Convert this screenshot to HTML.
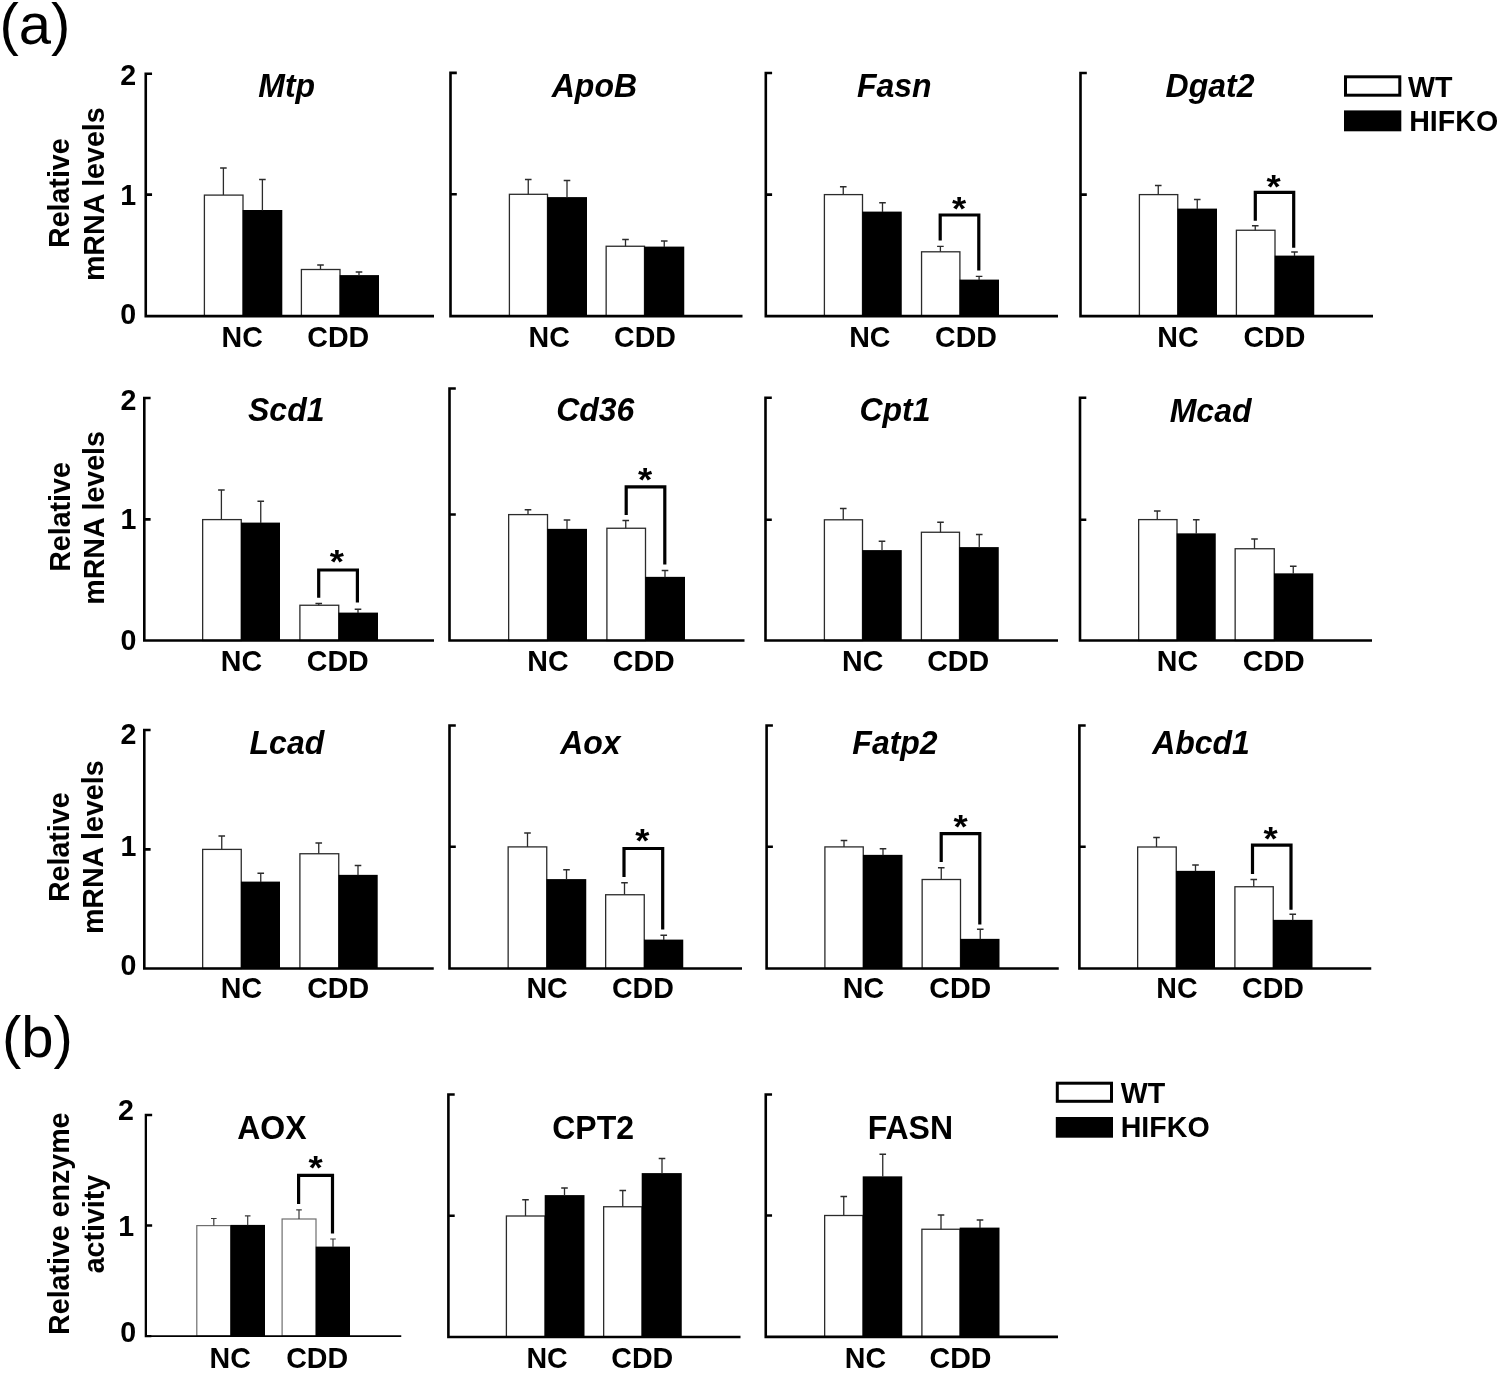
<!DOCTYPE html>
<html lang="en"><head><meta charset="utf-8"><title>Figure</title>
<style>
html,body{margin:0;padding:0;background:#fff;}
svg{display:block;}
text{font-family:"Liberation Sans",Arial,Helvetica,sans-serif;fill:#000;}
.b{font-weight:bold;font-size:28.6px;}
.t{font-weight:bold;font-style:italic;font-size:32px;}
.tb{font-weight:bold;font-size:32px;}
.pl{font-size:58px;}
.st{font-weight:bold;font-size:36.5px;}
.ax{fill:none;stroke:#000;stroke-linecap:butt;stroke-linejoin:miter;}
.wb{fill:#fff;stroke:#2b2b2b;stroke-width:1.3;}
.kb{fill:#000;}
.eb{fill:none;stroke:#2b2b2b;stroke-width:1.3;}
.br{fill:none;stroke:#000;stroke-width:3.2;stroke-linejoin:miter;}
</style></head>
<body>
<svg width="1500" height="1373" viewBox="0 0 1500 1373">
<rect x="0" y="0" width="1500" height="1373" fill="#fff"/>
<g>
<rect class="wb" style="stroke-width:1.3;stroke:#2b2b2b" x="204.4" y="195.1" width="38.6" height="121"/>
<rect class="kb" x="242.7" y="210" width="39.6" height="106.1"/>
<rect class="wb" style="stroke-width:1.3;stroke:#2b2b2b" x="301.4" y="269.5" width="38.6" height="46.6"/>
<rect class="kb" x="339.7" y="275.1" width="39.3" height="41"/>
<path class="eb" style="stroke-width:1.3;stroke:#2b2b2b" d="M223.4 195.1V168M220.1 168H226.7"/>
<path class="eb" style="stroke-width:1.3;stroke:#2b2b2b" d="M262.4 210.4V179.5M259.1 179.5H265.7"/>
<path class="eb" style="stroke-width:1.3;stroke:#2b2b2b" d="M320.5 269.5V265M317.2 265H323.8"/>
<path class="eb" style="stroke-width:1.3;stroke:#2b2b2b" d="M359 275.5V272M355.7 272H362.3"/>
<path class="ax" stroke-width="2.6" d="M152.05 73.8H145.75V316.1H434M145.75 194.6H152.05"/>
<text class="t" text-anchor="middle" transform="translate(286.65 96.8) scale(1 1.04)">Mtp</text>
<text class="b" text-anchor="middle" transform="translate(242.2 346.5) scale(1 1.04)">NC</text>
<text class="b" text-anchor="middle" transform="translate(338.3 346.5) scale(1 1.04)">CDD</text>
</g>
<g>
<rect class="wb" style="stroke-width:1.3;stroke:#2b2b2b" x="509.4" y="194.3" width="38.1" height="121.8"/>
<rect class="kb" x="547.2" y="197.1" width="39.8" height="119"/>
<rect class="wb" style="stroke-width:1.3;stroke:#2b2b2b" x="606.15" y="246.25" width="38.35" height="69.85"/>
<rect class="kb" x="644.2" y="246.6" width="40.05" height="69.5"/>
<path class="eb" style="stroke-width:1.3;stroke:#2b2b2b" d="M528.25 194.3V179.5M524.95 179.5H531.55"/>
<path class="eb" style="stroke-width:1.3;stroke:#2b2b2b" d="M567 197.5V180.5M563.7 180.5H570.3"/>
<path class="eb" style="stroke-width:1.3;stroke:#2b2b2b" d="M625.5 246.25V239.5M622.2 239.5H628.8"/>
<path class="eb" style="stroke-width:1.3;stroke:#2b2b2b" d="M664.25 247V241M660.95 241H667.55"/>
<path class="ax" stroke-width="2.6" d="M456.8 72.9H450.5V316.1H742.5M450.5 194.3H456.8"/>
<text class="t" text-anchor="middle" transform="translate(594.4 97) scale(1 1.04)">ApoB</text>
<text class="b" text-anchor="middle" transform="translate(549.2 346.5) scale(1 1.04)">NC</text>
<text class="b" text-anchor="middle" transform="translate(645 346.5) scale(1 1.04)">CDD</text>
</g>
<g>
<rect class="wb" style="stroke-width:1.3;stroke:#2b2b2b" x="824.4" y="194.6" width="38.1" height="121.5"/>
<rect class="kb" x="862.2" y="211.6" width="39.55" height="104.5"/>
<rect class="wb" style="stroke-width:1.3;stroke:#2b2b2b" x="921.55" y="251.8" width="38.35" height="64.3"/>
<rect class="kb" x="959.6" y="279.6" width="39.4" height="36.5"/>
<path class="eb" style="stroke-width:1.3;stroke:#2b2b2b" d="M843.25 194.6V186.75M839.95 186.75H846.55"/>
<path class="eb" style="stroke-width:1.3;stroke:#2b2b2b" d="M882.5 212V202.75M879.2 202.75H885.8"/>
<path class="eb" style="stroke-width:1.3;stroke:#2b2b2b" d="M940.4 251.8V246.4M937.1 246.4H943.7"/>
<path class="eb" style="stroke-width:1.3;stroke:#2b2b2b" d="M979.1 280V276.3M975.8 276.3H982.4"/>
<path class="ax" stroke-width="2.6" d="M772.1 73H765.8V316.1H1058M765.8 194.6H772.1"/>
<path class="br" d="M940.2 240.6V215H978.8V270.5"/>
<text class="st" text-anchor="middle" transform="translate(959 219.7) scale(1 0.93)">*</text>
<text class="t" text-anchor="middle" transform="translate(894.25 97) scale(1 1.04)">Fasn</text>
<text class="b" text-anchor="middle" transform="translate(869.8 346.5) scale(1 1.04)">NC</text>
<text class="b" text-anchor="middle" transform="translate(966 346.5) scale(1 1.04)">CDD</text>
</g>
<g>
<rect class="wb" style="stroke-width:1.3;stroke:#2b2b2b" x="1139.4" y="194.6" width="38.35" height="121.5"/>
<rect class="kb" x="1177.45" y="208.6" width="39.55" height="107.5"/>
<rect class="wb" style="stroke-width:1.3;stroke:#2b2b2b" x="1236.4" y="230.25" width="38.6" height="85.85"/>
<rect class="kb" x="1274.7" y="255.6" width="39.55" height="60.5"/>
<path class="eb" style="stroke-width:1.3;stroke:#2b2b2b" d="M1158.25 194.6V185.5M1154.95 185.5H1161.55"/>
<path class="eb" style="stroke-width:1.3;stroke:#2b2b2b" d="M1197.25 209V199.5M1193.95 199.5H1200.55"/>
<path class="eb" style="stroke-width:1.3;stroke:#2b2b2b" d="M1255.25 230.25V225.75M1251.95 225.75H1258.55"/>
<path class="eb" style="stroke-width:1.3;stroke:#2b2b2b" d="M1294.5 256V252M1291.2 252H1297.8"/>
<path class="ax" stroke-width="2.6" d="M1086.8 73H1080.5V316.1H1373M1080.5 194.6H1086.8"/>
<path class="br" d="M1255.3 220.7V192.3H1293.7V247.7"/>
<text class="st" text-anchor="middle" transform="translate(1273.5 197.7) scale(1 0.93)">*</text>
<text class="t" text-anchor="middle" transform="translate(1210 96.5) scale(1 1.04)">Dgat2</text>
<text class="b" text-anchor="middle" transform="translate(1178 346.5) scale(1 1.04)">NC</text>
<text class="b" text-anchor="middle" transform="translate(1274.4 346.5) scale(1 1.04)">CDD</text>
</g>
<g>
<rect class="wb" style="stroke-width:1.3;stroke:#2b2b2b" x="202.65" y="519.6" width="38.6" height="120.9"/>
<rect class="kb" x="240.95" y="522.6" width="39.05" height="117.9"/>
<rect class="wb" style="stroke-width:1.3;stroke:#2b2b2b" x="299.9" y="605.25" width="38.85" height="35.25"/>
<rect class="kb" x="338.45" y="612.6" width="39.55" height="27.9"/>
<path class="eb" style="stroke-width:1.3;stroke:#2b2b2b" d="M221.4 519.6V490M218.1 490H224.7"/>
<path class="eb" style="stroke-width:1.3;stroke:#2b2b2b" d="M260.75 523V501.25M257.45 501.25H264.05"/>
<path class="eb" style="stroke-width:1.3;stroke:#2b2b2b" d="M318.75 605.25V603.5M315.45 603.5H322.05"/>
<path class="eb" style="stroke-width:1.3;stroke:#2b2b2b" d="M358 613V609.25M354.7 609.25H361.3"/>
<path class="ax" stroke-width="2.6" d="M150.6 398H144.3V640.5H434M144.3 519.4H150.6"/>
<path class="br" d="M318.7 597.8V570H357.4V602.6"/>
<text class="st" text-anchor="middle" transform="translate(336.8 572.7) scale(1 0.93)">*</text>
<text class="t" text-anchor="middle" transform="translate(286.25 421.25) scale(1 1.04)">Scd1</text>
<text class="b" text-anchor="middle" transform="translate(241.5 670.8) scale(1 1.04)">NC</text>
<text class="b" text-anchor="middle" transform="translate(337.75 670.8) scale(1 1.04)">CDD</text>
</g>
<g>
<rect class="wb" style="stroke-width:1.3;stroke:#2b2b2b" x="508.65" y="514.6" width="38.85" height="125.9"/>
<rect class="kb" x="547.2" y="528.85" width="39.8" height="111.65"/>
<rect class="wb" style="stroke-width:1.3;stroke:#2b2b2b" x="606.9" y="528.25" width="38.6" height="112.25"/>
<rect class="kb" x="645.2" y="576.85" width="39.8" height="63.65"/>
<path class="eb" style="stroke-width:1.3;stroke:#2b2b2b" d="M528 514.6V509.75M524.7 509.75H531.3"/>
<path class="eb" style="stroke-width:1.3;stroke:#2b2b2b" d="M567 529.25V520M563.7 520H570.3"/>
<path class="eb" style="stroke-width:1.3;stroke:#2b2b2b" d="M625.75 528.25V520.5M622.45 520.5H629.05"/>
<path class="eb" style="stroke-width:1.3;stroke:#2b2b2b" d="M665 577.25V570.5M661.7 570.5H668.3"/>
<path class="ax" stroke-width="2.6" d="M455.8 388.5H449.5V640.5H744.5M449.5 514.5H455.8"/>
<path class="br" d="M626.2 515.1V486.9H664.8V564.6"/>
<text class="st" text-anchor="middle" transform="translate(645.2 490.5) scale(1 0.93)">*</text>
<text class="t" text-anchor="middle" transform="translate(595.25 420.5) scale(1 1.04)">Cd36</text>
<text class="b" text-anchor="middle" transform="translate(547.9 670.8) scale(1 1.04)">NC</text>
<text class="b" text-anchor="middle" transform="translate(643.75 670.8) scale(1 1.04)">CDD</text>
</g>
<g>
<rect class="wb" style="stroke-width:1.3;stroke:#2b2b2b" x="824.4" y="519.8" width="38.1" height="120.7"/>
<rect class="kb" x="862.2" y="550.1" width="39.55" height="90.4"/>
<rect class="wb" style="stroke-width:1.3;stroke:#2b2b2b" x="921.4" y="532.25" width="38.1" height="108.25"/>
<rect class="kb" x="959.2" y="547.1" width="39.55" height="93.4"/>
<path class="eb" style="stroke-width:1.3;stroke:#2b2b2b" d="M843.25 519.8V508.5M839.95 508.5H846.55"/>
<path class="eb" style="stroke-width:1.3;stroke:#2b2b2b" d="M882 550.5V541.25M878.7 541.25H885.3"/>
<path class="eb" style="stroke-width:1.3;stroke:#2b2b2b" d="M940.5 532.25V522.25M937.2 522.25H943.8"/>
<path class="eb" style="stroke-width:1.3;stroke:#2b2b2b" d="M979.25 547.5V534.5M975.95 534.5H982.55"/>
<path class="ax" stroke-width="2.6" d="M771.8 397.7H765.5V640.5H1058M765.5 519.75H771.8"/>
<text class="t" text-anchor="middle" transform="translate(895 421.25) scale(1 1.04)">Cpt1</text>
<text class="b" text-anchor="middle" transform="translate(862.75 670.8) scale(1 1.04)">NC</text>
<text class="b" text-anchor="middle" transform="translate(958.1 670.8) scale(1 1.04)">CDD</text>
</g>
<g>
<rect class="wb" style="stroke-width:1.3;stroke:#2b2b2b" x="1138.65" y="519.6" width="38.35" height="120.9"/>
<rect class="kb" x="1176.7" y="533.35" width="39.05" height="107.15"/>
<rect class="wb" style="stroke-width:1.3;stroke:#2b2b2b" x="1235.15" y="548.75" width="39.1" height="91.75"/>
<rect class="kb" x="1273.95" y="573.35" width="39.3" height="67.15"/>
<path class="eb" style="stroke-width:1.3;stroke:#2b2b2b" d="M1157.25 519.6V511M1153.95 511H1160.55"/>
<path class="eb" style="stroke-width:1.3;stroke:#2b2b2b" d="M1196.25 533.75V519.75M1192.95 519.75H1199.55"/>
<path class="eb" style="stroke-width:1.3;stroke:#2b2b2b" d="M1254.5 548.75V539M1251.2 539H1257.8"/>
<path class="eb" style="stroke-width:1.3;stroke:#2b2b2b" d="M1293.25 573.75V566.25M1289.95 566.25H1296.55"/>
<path class="ax" stroke-width="2.6" d="M1086.3 397.7H1080V640.5H1372M1080 519.75H1086.3"/>
<text class="t" text-anchor="middle" transform="translate(1210.6 421.75) scale(1 1.04)">Mcad</text>
<text class="b" text-anchor="middle" transform="translate(1177.5 670.8) scale(1 1.04)">NC</text>
<text class="b" text-anchor="middle" transform="translate(1273.75 670.8) scale(1 1.04)">CDD</text>
</g>
<g>
<rect class="wb" style="stroke-width:1.3;stroke:#2b2b2b" x="202.65" y="849.4" width="38.6" height="119.1"/>
<rect class="kb" x="240.95" y="881.6" width="39.05" height="86.9"/>
<rect class="wb" style="stroke-width:1.3;stroke:#2b2b2b" x="299.9" y="853.75" width="38.85" height="114.75"/>
<rect class="kb" x="338.45" y="874.85" width="39.25" height="93.65"/>
<path class="eb" style="stroke-width:1.3;stroke:#2b2b2b" d="M221.75 849.4V836M218.45 836H225.05"/>
<path class="eb" style="stroke-width:1.3;stroke:#2b2b2b" d="M260.75 882V873.25M257.45 873.25H264.05"/>
<path class="eb" style="stroke-width:1.3;stroke:#2b2b2b" d="M318.75 853.75V843M315.45 843H322.05"/>
<path class="eb" style="stroke-width:1.3;stroke:#2b2b2b" d="M358 875.25V865.5M354.7 865.5H361.3"/>
<path class="ax" stroke-width="2.6" d="M150.6 730H144.3V968.5H433.75M144.3 849.4H150.6"/>
<text class="t" text-anchor="middle" transform="translate(286.9 753.5) scale(1 1.04)">Lcad</text>
<text class="b" text-anchor="middle" transform="translate(241.5 997.8) scale(1 1.04)">NC</text>
<text class="b" text-anchor="middle" transform="translate(338.1 997.8) scale(1 1.04)">CDD</text>
</g>
<g>
<rect class="wb" style="stroke-width:1.3;stroke:#2b2b2b" x="508.15" y="846.9" width="38.6" height="121.6"/>
<rect class="kb" x="546.45" y="879.1" width="39.8" height="89.4"/>
<rect class="wb" style="stroke-width:1.3;stroke:#2b2b2b" x="605.65" y="894.75" width="38.6" height="73.75"/>
<rect class="kb" x="643.95" y="939.6" width="39.3" height="28.9"/>
<path class="eb" style="stroke-width:1.3;stroke:#2b2b2b" d="M527.5 846.9V833M524.2 833H530.8"/>
<path class="eb" style="stroke-width:1.3;stroke:#2b2b2b" d="M566.5 879.5V869.75M563.2 869.75H569.8"/>
<path class="eb" style="stroke-width:1.3;stroke:#2b2b2b" d="M624.5 894.75V882.75M621.2 882.75H627.8"/>
<path class="eb" style="stroke-width:1.3;stroke:#2b2b2b" d="M663.75 940V935.25M660.45 935.25H667.05"/>
<path class="ax" stroke-width="2.6" d="M455.8 725.5H449.5V968.5H742M449.5 846.75H455.8"/>
<path class="br" d="M624 876.9V848.5H662.7V929.4"/>
<text class="st" text-anchor="middle" transform="translate(642.3 851.8) scale(1 0.93)">*</text>
<text class="t" text-anchor="middle" transform="translate(590.4 753.5) scale(1 1.04)">Aox</text>
<text class="b" text-anchor="middle" transform="translate(547.1 997.8) scale(1 1.04)">NC</text>
<text class="b" text-anchor="middle" transform="translate(642.9 997.8) scale(1 1.04)">CDD</text>
</g>
<g>
<rect class="wb" style="stroke-width:1.3;stroke:#2b2b2b" x="824.9" y="846.9" width="38.35" height="121.6"/>
<rect class="kb" x="862.95" y="854.85" width="39.55" height="113.65"/>
<rect class="wb" style="stroke-width:1.3;stroke:#2b2b2b" x="922.15" y="879.5" width="38.35" height="89"/>
<rect class="kb" x="960.2" y="938.85" width="39.3" height="29.65"/>
<path class="eb" style="stroke-width:1.3;stroke:#2b2b2b" d="M844 846.9V840.5M840.7 840.5H847.3"/>
<path class="eb" style="stroke-width:1.3;stroke:#2b2b2b" d="M883 855.25V848.75M879.7 848.75H886.3"/>
<path class="eb" style="stroke-width:1.3;stroke:#2b2b2b" d="M941.25 879.5V867.75M937.95 867.75H944.55"/>
<path class="eb" style="stroke-width:1.3;stroke:#2b2b2b" d="M980.25 939.25V929.25M976.95 929.25H983.55"/>
<path class="ax" stroke-width="2.6" d="M772.9 725.5H766.6V968.5H1058.75M766.6 846.75H772.9"/>
<path class="br" d="M941.2 861.9V833.7H979.8V924.4"/>
<text class="st" text-anchor="middle" transform="translate(960.6 837.8) scale(1 0.93)">*</text>
<text class="t" text-anchor="middle" transform="translate(895 753.5) scale(1 1.04)">Fatp2</text>
<text class="b" text-anchor="middle" transform="translate(863.5 997.8) scale(1 1.04)">NC</text>
<text class="b" text-anchor="middle" transform="translate(960.25 997.8) scale(1 1.04)">CDD</text>
</g>
<g>
<rect class="wb" style="stroke-width:1.3;stroke:#2b2b2b" x="1137.65" y="847" width="38.6" height="121.5"/>
<rect class="kb" x="1175.95" y="870.85" width="39.05" height="97.65"/>
<rect class="wb" style="stroke-width:1.3;stroke:#2b2b2b" x="1234.9" y="886.75" width="38.35" height="81.75"/>
<rect class="kb" x="1272.95" y="919.85" width="39.55" height="48.65"/>
<path class="eb" style="stroke-width:1.3;stroke:#2b2b2b" d="M1156.5 847V837.5M1153.2 837.5H1159.8"/>
<path class="eb" style="stroke-width:1.3;stroke:#2b2b2b" d="M1195.5 871.25V865M1192.2 865H1198.8"/>
<path class="eb" style="stroke-width:1.3;stroke:#2b2b2b" d="M1253.75 886.75V879.5M1250.45 879.5H1257.05"/>
<path class="eb" style="stroke-width:1.3;stroke:#2b2b2b" d="M1292.75 920.25V914.25M1289.45 914.25H1296.05"/>
<path class="ax" stroke-width="2.6" d="M1085.7 725.5H1079.4V968.5H1371.25M1079.4 846.75H1085.7"/>
<path class="br" d="M1252.5 873.9V845.2H1291V909.7"/>
<text class="st" text-anchor="middle" transform="translate(1270.5 849.9) scale(1 0.93)">*</text>
<text class="t" text-anchor="middle" transform="translate(1201 753.5) scale(1 1.04)">Abcd1</text>
<text class="b" text-anchor="middle" transform="translate(1176.9 997.8) scale(1 1.04)">NC</text>
<text class="b" text-anchor="middle" transform="translate(1273 997.8) scale(1 1.04)">CDD</text>
</g>
<g>
<rect class="wb" style="stroke-width:1.2;stroke:#6e6e6e" x="196.8" y="1225.6" width="33.9" height="110.5"/>
<rect class="kb" x="230.4" y="1224.9" width="34.6" height="111.2"/>
<rect class="wb" style="stroke-width:1.2;stroke:#6e6e6e" x="282.1" y="1219" width="33.9" height="117.1"/>
<rect class="kb" x="315.7" y="1246.6" width="34.3" height="89.5"/>
<path class="eb" style="stroke-width:1.2;stroke:#3a3a3a" d="M213.8 1225.6V1218.5M211 1218.5H216.6"/>
<path class="eb" style="stroke-width:1.2;stroke:#3a3a3a" d="M247.7 1225.3V1215.8M244.9 1215.8H250.5"/>
<path class="eb" style="stroke-width:1.2;stroke:#3a3a3a" d="M299 1219V1209.8M296.2 1209.8H301.8"/>
<path class="eb" style="stroke-width:1.2;stroke:#3a3a3a" d="M333 1247V1239M330.2 1239H335.8"/>
<path class="ax" stroke-width="2.3" d="M152.15 1115H145.85V1336.1H151.35M145.85 1225.5H152.15"/>
<path class="ax" stroke-width="1.6" d="M145.85 1336.1H401.25"/>
<path class="br" d="M298.6 1203.9V1175.3H332.5V1233.4"/>
<text class="st" text-anchor="middle" transform="translate(315.6 1178.8) scale(1 0.93)">*</text>
<text class="tb" text-anchor="middle" transform="translate(271.9 1139.25) scale(1 1.04)">AOX</text>
<text class="b" text-anchor="middle" transform="translate(230.25 1367.8) scale(1 1.04)">NC</text>
<text class="b" text-anchor="middle" transform="translate(317.1 1367.8) scale(1 1.04)">CDD</text>
</g>
<g>
<rect class="wb" style="stroke-width:1.3;stroke:#2b2b2b" x="506.4" y="1216" width="38.6" height="121"/>
<rect class="kb" x="544.7" y="1195.1" width="39.8" height="141.9"/>
<rect class="wb" style="stroke-width:1.3;stroke:#2b2b2b" x="603.65" y="1206.75" width="38.35" height="130.25"/>
<rect class="kb" x="641.7" y="1173.1" width="40.05" height="163.9"/>
<path class="eb" style="stroke-width:1.3;stroke:#2b2b2b" d="M525.5 1216V1199.75M522.2 1199.75H528.8"/>
<path class="eb" style="stroke-width:1.3;stroke:#2b2b2b" d="M564.5 1195.5V1188M561.2 1188H567.8"/>
<path class="eb" style="stroke-width:1.3;stroke:#2b2b2b" d="M622.75 1206.75V1190.5M619.45 1190.5H626.05"/>
<path class="eb" style="stroke-width:1.3;stroke:#2b2b2b" d="M662 1173.5V1158.5M658.7 1158.5H665.3"/>
<path class="ax" stroke-width="2.6" d="M454.7 1094.5H448.4V1337H740.5M448.4 1215.75H454.7"/>
<text class="tb" text-anchor="middle" transform="translate(593.1 1138.75) scale(1 1.04)">CPT2</text>
<text class="b" text-anchor="middle" transform="translate(547.1 1367.8) scale(1 1.04)">NC</text>
<text class="b" text-anchor="middle" transform="translate(642.25 1367.8) scale(1 1.04)">CDD</text>
</g>
<g>
<rect class="wb" style="stroke-width:1.3;stroke:#2b2b2b" x="824.65" y="1215.5" width="38.35" height="121.4"/>
<rect class="kb" x="862.7" y="1176.35" width="39.55" height="160.55"/>
<rect class="wb" style="stroke-width:1.3;stroke:#2b2b2b" x="921.9" y="1229.25" width="38.1" height="107.65"/>
<rect class="kb" x="959.7" y="1227.6" width="39.8" height="109.3"/>
<path class="eb" style="stroke-width:1.3;stroke:#2b2b2b" d="M843.75 1215.5V1196.5M840.45 1196.5H847.05"/>
<path class="eb" style="stroke-width:1.3;stroke:#2b2b2b" d="M882.75 1176.75V1154.25M879.45 1154.25H886.05"/>
<path class="eb" style="stroke-width:1.3;stroke:#2b2b2b" d="M941 1229.25V1215M937.7 1215H944.3"/>
<path class="eb" style="stroke-width:1.3;stroke:#2b2b2b" d="M980 1228V1220M976.7 1220H983.3"/>
<path class="ax" stroke-width="2.6" d="M772.05 1094.5H765.75V1336.9H1058M765.75 1215.5H772.05"/>
<text class="tb" text-anchor="middle" transform="translate(910.4 1139.25) scale(1 1.04)">FASN</text>
<text class="b" text-anchor="middle" transform="translate(865.4 1367.8) scale(1 1.04)">NC</text>
<text class="b" text-anchor="middle" transform="translate(960.5 1367.8) scale(1 1.04)">CDD</text>
</g>
<text class="b" transform="translate(120.3 85.2) scale(1 1.04)">2</text>
<text class="b" transform="translate(120.3 205) scale(1 1.04)">1</text>
<text class="b" transform="translate(120.3 324.1) scale(1 1.04)">0</text>
<text class="b" transform="translate(120.5 409.6) scale(1 1.04)">2</text>
<text class="b" transform="translate(120.5 529.4) scale(1 1.04)">1</text>
<text class="b" transform="translate(120.5 649.5) scale(1 1.04)">0</text>
<text class="b" transform="translate(120.6 744.3) scale(1 1.04)">2</text>
<text class="b" transform="translate(120.6 856.3) scale(1 1.04)">1</text>
<text class="b" transform="translate(120.6 975) scale(1 1.04)">0</text>
<text class="b" transform="translate(117.9 1120.1) scale(1 1.04)">2</text>
<text class="b" transform="translate(118.3 1236) scale(1 1.04)">1</text>
<text class="b" transform="translate(120.25 1342.3) scale(1 1.04)">0</text>
<text class="b" text-anchor="middle" transform="translate(69.3 193.2) rotate(-90) scale(1 1.04)">Relative</text>
<text class="b" text-anchor="middle" transform="translate(103.9 194.2) rotate(-90) scale(1 1.04)">mRNA levels</text>
<text class="b" text-anchor="middle" transform="translate(69.5 517) rotate(-90) scale(1 1.04)">Relative</text>
<text class="b" text-anchor="middle" transform="translate(103.9 517.9) rotate(-90) scale(1 1.04)">mRNA levels</text>
<text class="b" text-anchor="middle" transform="translate(68.6 847.25) rotate(-90) scale(1 1.04)">Relative</text>
<text class="b" text-anchor="middle" transform="translate(103.2 847.25) rotate(-90) scale(1 1.04)">mRNA levels</text>
<text class="b" text-anchor="middle" transform="translate(68.9 1223.7) rotate(-90) scale(1 1.04)">Relative enzyme</text>
<text class="b" text-anchor="middle" transform="translate(103.75 1224.1) rotate(-90) scale(1 1.04)">activity</text>
<text class="pl" x="-0.6" y="44.4">(a)</text>
<text class="pl" x="1.9" y="1057.3">(b)</text>
<rect x="1345.5" y="76.8" width="54.3" height="18.4" fill="#fff" stroke="#000" stroke-width="3"/>
<rect x="1344" y="110.4" width="57.3" height="20.9" fill="#000"/>
<text class="b" transform="translate(1408.1 96.9) scale(1 1.04)">WT</text>
<text class="b" transform="translate(1409.2 131) scale(1 1.04)">HIFKO</text>
<rect x="1057.3" y="1083.2" width="54.2" height="18.1" fill="#fff" stroke="#000" stroke-width="3"/>
<rect x="1055.8" y="1117" width="57.2" height="20.7" fill="#000"/>
<text class="b" transform="translate(1120.7 1102.5) scale(1 1.04)">WT</text>
<text class="b" transform="translate(1120.7 1137) scale(1 1.04)">HIFKO</text>
</svg>
</body></html>
